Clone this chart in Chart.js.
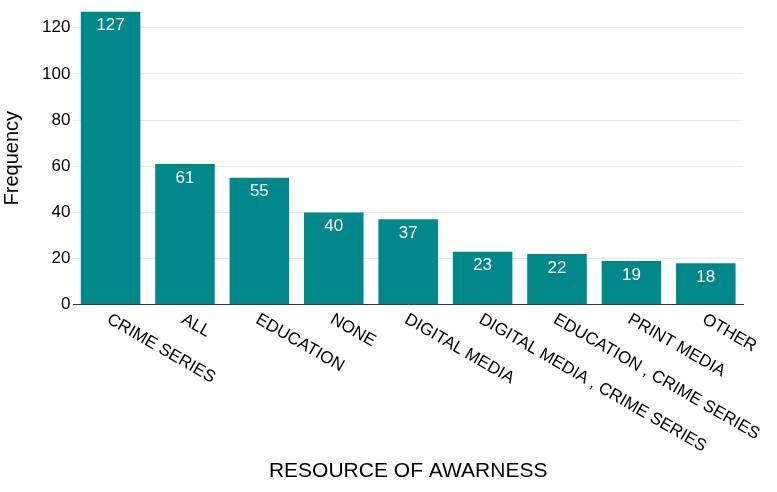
<!DOCTYPE html>
<html>
<head>
<meta charset="utf-8">
<script src="https://cdn.jsdelivr.net/npm/chart.js@4"></script>
<style>
  html, body { margin: 0; padding: 0; background: #fff; }
  #wrap { width: 777px; height: 492px; }
</style>
</head>
<body>
<div id="wrap"><canvas id="chart"></canvas></div>
<script>
// categories and counts
const categories = ['CRIME SERIES', 'ALL', 'EDUCATION', 'NONE', 'DIGITAL MEDIA',
  'DIGITAL MEDIA , CRIME SERIES', 'EDUCATION , CRIME SERIES', 'PRINT MEDIA', 'OTHER'];
const frequency = [127, 61, 55, 40, 37, 23, 22, 19, 18];
const yTicks = [0, 20, 40, 60, 80, 100, 120];

const FONT = "'Liberation Sans', Arial, sans-serif";

// values printed white just under the top of each bar
const barValues = {
  id: 'barValues',
  afterDatasetsDraw(chart) {
    const ctx = chart.ctx;
    const meta = chart.getDatasetMeta(0);
    ctx.save();
    ctx.fillStyle = '#fff';
    ctx.font = '17px ' + FONT;
    ctx.textAlign = 'center';
    ctx.textBaseline = 'middle';
    meta.data.forEach((bar, i) => {
      ctx.fillText(String(frequency[i]), bar.x, bar.y + 14);
    });
    ctx.restore();
  }
};

// slanted category labels, going down to the right from each tick
const slantLabels = {
  id: 'slantLabels',
  afterDraw(chart) {
    const ctx = chart.ctx;
    const xs = chart.scales.x;
    const y0 = chart.chartArea.bottom + 6;
    ctx.save();
    ctx.fillStyle = '#000';
    ctx.font = '17px ' + FONT;
    ctx.textAlign = 'left';
    ctx.textBaseline = 'top';
    categories.forEach((lab, i) => {
      const x = xs.getPixelForValue(i);
      ctx.save();
      ctx.translate(x + 2, y0);
      ctx.rotate(30 * Math.PI / 180);
      ctx.fillText(lab, 0, 0);
      ctx.restore();
    });
    ctx.restore();
  }
};

new Chart(document.getElementById('chart'), {
  type: 'bar',
  data: {
    labels: categories,
    datasets: [{
      label: 'Frequency',
      data: frequency,
      backgroundColor: '#00878a',
      borderWidth: 0,
      barPercentage: 1,
      categoryPercentage: 0.8
    }]
  },
  options: {
    responsive: true,
    maintainAspectRatio: false,
    animation: false,
    layout: { padding: { top: 10, right: 34, left: 0, bottom: 0 } },
    plugins: {
      legend: { display: false },
      tooltip: { enabled: false }
    },
    scales: {
      x: {
        grid: { display: false },
        border: { display: true, color: '#333', width: 1 },
        ticks: { display: false },
        title: {
          display: true,
          text: 'RESOURCE OF AWARNESS',
          color: '#000',
          font: { family: FONT, size: 21 },
          padding: { top: 146, bottom: 8 }
        }
      },
      y: {
        min: 0,
        max: 127,
        afterBuildTicks(scale) {
          scale.ticks = yTicks.map(v => ({ value: v }));
        },
        grid: { color: '#e8e8e8', drawTicks: false },
        border: { display: false },
        ticks: {
          color: '#000',
          padding: 3,
          font: { family: FONT, size: 17, lineHeight: 1 }
        },
        title: {
          display: true,
          text: 'Frequency',
          color: '#000',
          font: { family: FONT, size: 20 },
          padding: { top: 0, bottom: 15 }
        }
      }
    }
  },
  plugins: [barValues, slantLabels]
});
</script>
</body>
</html>
